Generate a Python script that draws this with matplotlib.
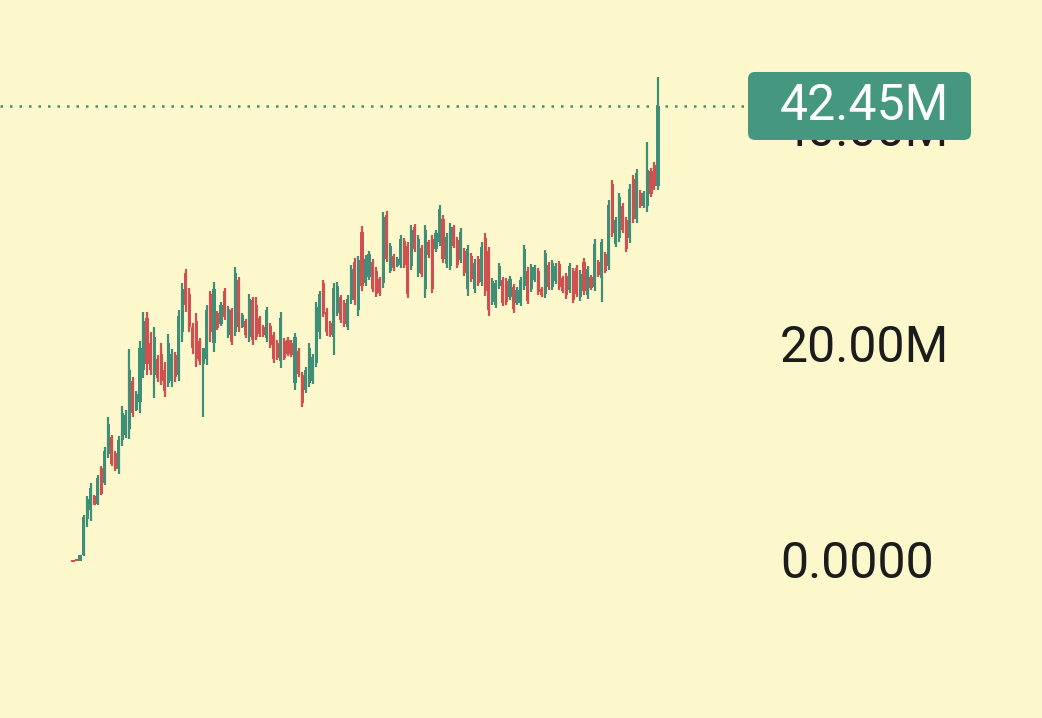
import numpy as np
import matplotlib
matplotlib.use("Agg")
import matplotlib.pyplot as plt
from matplotlib.patches import FancyBboxPatch

plt.rcParams['font.family'] = ['Roboto', 'DejaVu Sans']

# OHLC values in millions
opens = [0.35, 0.44, 0.3, 0.8, 4.2, 5.0, 6.3, 5.6, 8.9, 7.5,
         10.2, 11.8, 10.3, 8.8, 11.5, 12.0, 12.5, 17.0, 14.3, 15.0,
         18.0, 22.8, 20.5, 17.5, 19.0, 19.5, 18.0, 16.8, 17.0, 19.4,
         17.5, 21.5, 27.0, 25.0, 22.0, 22.5, 20.7, 18.5, 19.0, 25.0,
         20.5, 23.3, 22.2, 25.3, 21.2, 23.5, 21.5, 26.3, 22.0, 22.5,
         21.0, 24.5, 24.0, 22.8, 22.0, 20.9, 22.1, 21.2, 20.5, 18.8,
         20.7, 20.8, 20.5, 16.8, 19.7, 17.5, 16.1, 16.8, 17.0, 18.6,
         21.5, 26.0, 23.4, 22.3, 21.0, 23.3, 24.7, 24.2, 22.0, 24.5,
         28.0, 23.5, 30.8, 26.0, 26.6, 28.0, 27.2, 26.4, 26.0, 32.3,
         27.2, 28.5, 27.6, 27.7, 29.9, 29.5, 27.6, 31.2, 27.0, 29.3,
         25.5, 29.8, 30.1, 29.2, 29.8, 32.0, 27.8, 27.6, 31.2, 30.0,
         28.2, 29.0, 25.5, 28.5, 25.5, 28.3, 26.1, 30.2, 29.0, 24.3,
         24.0, 25.8, 26.3, 26.2, 24.7, 25.7, 24.2, 24.2, 25.8, 27.2,
         25.5, 26.3, 27.2, 25.5, 25.0, 27.7, 25.7, 26.2, 27.8, 26.5,
         26.7, 25.4, 27.2, 27.4, 24.7, 28.0, 24.9, 26.6, 25.7, 28.0,
         26.5, 28.7, 27.6, 35.2, 29.7, 30.2, 33.2, 31.9, 30.2, 35.7,
         32.0, 34.4, 33.2, 33.2, 36.4, 37.0, 35.0]
highs = [0.37, 0.46, 0.83, 4.54, 6.3, 7.5, 6.39, 8.25, 9.08, 10.84,
         13.62, 11.96, 10.47, 11.86, 14.64, 14.27, 19.93, 17.33, 16.03, 20.67,
         23.35, 23.35, 21.5, 21.96, 19.37, 20.48, 18.72, 21.32, 19.93, 19.65,
         23.54, 26.04, 27.34, 25.58, 22.34, 23.26, 20.95, 20.02, 24.0, 25.3,
         26.14, 23.45, 24.28, 25.58, 23.91, 23.73, 27.53, 26.6, 23.26, 22.71,
         25.02, 24.75, 24.75, 22.98, 22.15, 23.82, 22.34, 21.5, 20.76, 23.35,
         20.95, 21.04, 20.76, 21.41, 20.02, 17.79, 18.26, 20.48, 19.46, 24.28,
         25.3, 26.32, 23.73, 22.52, 26.04, 26.14, 24.93, 24.47, 24.93, 27.71,
         28.36, 28.54, 31.33, 28.64, 29.01, 28.27, 27.53, 26.6, 32.62, 32.72,
         29.75, 28.73, 28.45, 30.49, 30.21, 29.84, 31.42, 31.51, 30.49, 29.56,
         31.42, 30.03, 30.49, 30.95, 33.27, 32.34, 30.68, 31.6, 31.42, 30.31,
         31.14, 29.29, 29.56, 28.82, 28.27, 28.54, 29.84, 30.68, 29.38, 26.51,
         26.32, 27.9, 26.6, 26.51, 26.69, 25.95, 25.67, 26.6, 29.56, 27.53,
         27.8, 27.71, 27.43, 25.67, 29.1, 27.99, 28.17, 27.9, 28.08, 26.69,
         26.97, 27.9, 27.43, 27.71, 27.25, 28.36, 27.62, 26.78, 30.12, 28.17,
         30.12, 28.92, 33.73, 35.59, 32.16, 34.38, 33.46, 32.16, 35.22, 36.05,
         36.61, 34.66, 34.57, 39.11, 36.7, 37.26, 45.13]
lows = [0.19, 0.28, 0.28, 0.74, 3.43, 4.0, 5.47, 5.47, 6.39, 7.32,
        9.82, 9.08, 8.62, 8.34, 10.94, 11.68, 11.58, 13.62, 14.18, 13.99,
        17.24, 17.52, 17.52, 15.38, 16.87, 16.59, 15.48, 16.4, 16.4, 16.87,
        16.96, 20.57, 23.35, 21.5, 19.46, 18.26, 18.44, 13.62, 18.44, 20.57,
        19.65, 21.69, 22.06, 22.61, 20.95, 20.3, 21.13, 21.5, 21.87, 20.95,
        20.57, 20.3, 20.76, 21.04, 21.04, 20.57, 20.02, 18.63, 18.91, 18.17,
        18.91, 19.28, 19.18, 16.13, 17.33, 14.55, 15.85, 16.4, 16.68, 18.26,
        20.85, 22.89, 21.13, 21.04, 19.37, 22.98, 22.34, 21.96, 21.69, 24.1,
        24.0, 22.98, 25.3, 25.76, 26.32, 25.21, 24.75, 24.84, 25.58, 27.99,
        26.97, 27.16, 27.53, 27.43, 27.43, 24.65, 27.25, 28.92, 26.6, 26.6,
        24.65, 28.36, 25.12, 28.92, 29.47, 27.9, 27.43, 27.25, 29.29, 27.43,
        27.9, 26.69, 24.84, 26.14, 25.12, 25.76, 25.76, 24.84, 22.98, 24.0,
        23.73, 25.49, 23.91, 24.0, 24.47, 23.26, 24.0, 23.91, 25.39, 24.1,
        25.21, 26.14, 24.93, 24.75, 24.65, 25.39, 25.39, 25.95, 25.39, 25.12,
        24.56, 25.12, 24.19, 24.75, 24.37, 24.93, 24.56, 25.39, 25.3, 26.6,
        24.28, 26.97, 27.25, 30.31, 29.38, 29.84, 30.68, 28.92, 29.75, 31.6,
        31.6, 32.99, 32.99, 32.62, 34.01, 34.66, 34.66]
closes = [0.22, 0.3, 0.8, 4.4, 6.0, 7.0, 5.5, 8.0, 6.5, 10.5,
          13.0, 9.3, 8.8, 11.5, 14.0, 13.8, 18.0, 14.0, 15.8, 20.0,
          22.5, 18.5, 18.0, 21.0, 17.2, 17.0, 16.0, 20.5, 19.5, 17.3,
          23.0, 25.5, 24.0, 22.0, 20.0, 19.0, 18.8, 20.0, 23.5, 21.5,
          25.5, 21.9, 24.0, 22.9, 23.6, 20.6, 27.0, 22.0, 23.1, 21.2,
          24.6, 20.8, 21.0, 21.3, 21.2, 23.5, 20.3, 19.0, 19.1, 22.8,
          19.1, 19.5, 19.4, 21.0, 17.6, 14.9, 18.0, 20.0, 19.2, 23.8,
          25.0, 23.2, 21.5, 21.2, 25.6, 25.8, 22.6, 22.2, 24.6, 27.3,
          24.5, 28.2, 25.8, 28.3, 28.7, 25.5, 25.0, 25.1, 32.2, 28.3,
          29.5, 27.4, 28.3, 30.1, 27.7, 25.0, 31.0, 29.2, 30.1, 26.9,
          31.0, 28.6, 25.5, 30.7, 32.9, 28.3, 30.3, 31.2, 29.5, 27.7,
          30.8, 27.0, 29.2, 26.4, 27.9, 26.0, 29.4, 25.3, 23.5, 26.2,
          26.0, 27.6, 24.2, 24.3, 26.4, 23.6, 25.4, 26.3, 29.2, 24.4,
          27.5, 27.5, 25.2, 24.9, 28.8, 25.7, 27.9, 27.6, 25.7, 25.3,
          24.9, 27.6, 24.5, 25.0, 26.9, 25.3, 27.3, 25.6, 29.7, 26.8,
          29.8, 27.2, 33.3, 30.7, 31.9, 34.0, 31.0, 29.2, 34.8, 32.0,
          36.2, 33.2, 34.4, 36.5, 34.3, 35.0, 42.45]

axis_ticks = [0, 20, 40]
tick_labels = ["0.0000", "20.00M", "40.00M"]
last_label = "42.45M"

bg = "#FDF8CC"
up_col = "#3F8F78"
down_col = "#D24F4F"
tag_col = "#45987F"

W, H = 1042, 718
fig = plt.figure(figsize=(W / 100, H / 100), dpi=100, facecolor=bg)
ax = fig.add_axes([0, 0, 1, 1], facecolor=bg)

o = np.array(opens)
h = np.array(highs)
l = np.array(lows)
c = np.array(closes)
x = np.arange(len(o))
cols = np.where(c >= o, up_col, down_col)

# pixel layout of the original: first candle at 73px, last at 658px, zero at y=564, 10.79 px per million
px_step = (658 - 73) / (len(o) - 1)
ax.set_xlim(-73 / px_step, (W - 73) / px_step)
ppm = 10.79
ax.set_ylim(-(H - 564) / ppm, 564 / ppm)
ax.axis("off")

ax.vlines(x, l, h, colors=cols, linewidth=1.6, zorder=3)
ax.bar(x, np.maximum(np.abs(c - o), 0.15), bottom=np.minimum(o, c), width=0.88,
       color=cols, linewidth=0, zorder=3)

# last price dotted line
ax.axhline(c[-1], xmin=0, xmax=748 / W, color=up_col, linewidth=1.8,
           linestyle=(0, (1, 2.8)), zorder=2)

# overlay with pixel x and shared y for the price scale
ov = fig.add_axes([0, 0, 1, 1], sharey=ax)
ov.set_xlim(0, W)
ov.patch.set_alpha(0)
ov.axis("off")

for v, t in zip(axis_ticks, tick_labels):
    ov.text(780, v, t, ha="left", va="center", fontsize=36, color="#1C1C1C", zorder=1)

box_h = 68 / ppm
ov.add_patch(FancyBboxPatch((748, c[-1] - box_h / 2), 223, box_h,
                            boxstyle="round,pad=0,rounding_size=7",
                            mutation_aspect=1 / ppm, fc=tag_col, ec="none", zorder=5))
ov.text(780, c[-1], last_label, ha="left", va="center", fontsize=36,
        color="white", zorder=6)

fig.savefig("out.png", dpi=100, facecolor=bg)
